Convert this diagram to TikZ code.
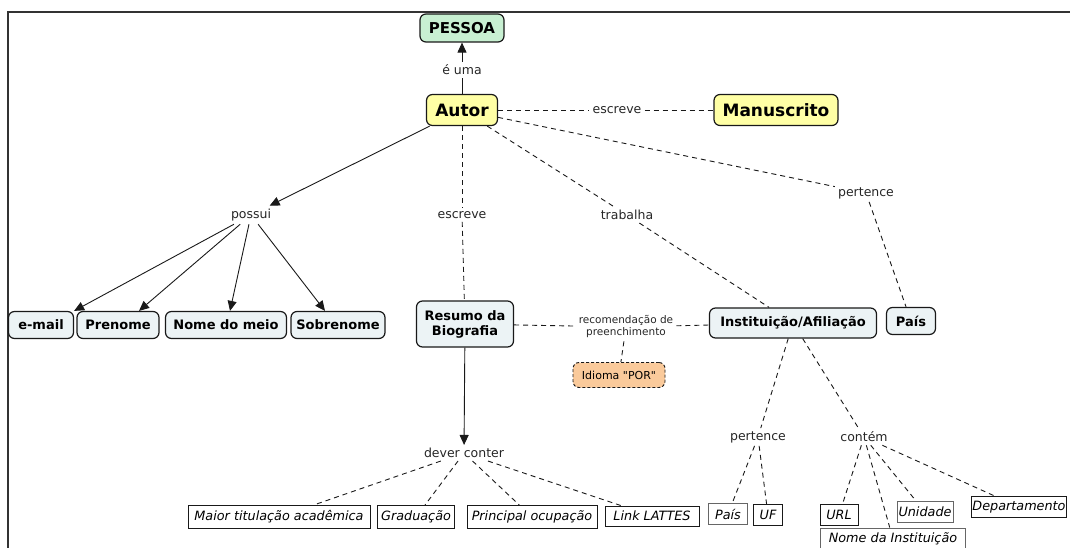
\documentclass[tikz,border=0pt]{standalone}
\usepackage{fontspec}
\setmainfont{DejaVu Sans}
\newfontfamily\plainquotes{DejaVu Sans}[Ligatures=TeXOff]
\usetikzlibrary{arrows.meta}
\definecolor{conceptfill}{RGB}{236,243,245}
\definecolor{autorfill}{RGB}{255,255,165}
\definecolor{pessoafill}{RGB}{200,240,210}
\definecolor{idiomafill}{RGB}{250,202,155}
\definecolor{inkline}{RGB}{25,25,25}

\begin{document}
\begin{tikzpicture}[x=1pt,y=-1pt,
  concept/.style={draw=inkline, line width=1.2pt, rounded corners=6pt, fill=conceptfill,
    font=\bfseries\fontsize{13}{15}\selectfont, inner sep=0pt, align=center},
  keybox/.style={concept, fill=autorfill, font=\bfseries\fontsize{17}{19}\selectfont},
  leaf/.style={draw=inkline, line width=0.9pt, fill=white, inner sep=1pt,
    font=\itshape\fontsize{12.8}{14}\selectfont, minimum height=21pt},
  link/.style={inner sep=3pt, text=black!85, font=\fontsize{12.5}{14}\selectfont},
  solidc/.style={line width=0.9pt, draw=inkline},
  arrowc/.style={solidc, -{Triangle[length=10pt,width=9pt]}},
  dashc/.style={line width=0.9pt, draw=inkline, dash pattern=on 5pt off 4pt}
]
\useasboundingbox (0,0) rectangle (1070,548);

% frame
\draw[line width=1.4pt, black!80] (8,548) -- (8,12) -- (1070,12);

% main concepts
\node[concept, fill=pessoafill, font=\bfseries\fontsize{15}{17}\selectfont,
  minimum width=84pt, minimum height=28pt] (pessoa) at (462,28) {PESSOA};
\node[keybox, minimum width=71pt, minimum height=31pt] (autor) at (462,110) {Autor};
\node[keybox, minimum width=124pt, minimum height=31pt] (manuscrito) at (776,110) {Manuscrito};

% linking phrases
\node[link] (euma) at (462,70) {é uma};
\node[link] (escreveA) at (617,110) {escreve};
\node[link] (possui) at (251,215) {possui};
\node[link] (escreveB) at (462,215) {escreve};
\node[link] (trabalha) at (627,215) {trabalha};
\node[link] (pertenceA) at (866,193) {pertence};
\node[link, font=\fontsize{10.5}{12}\selectfont, align=center] (recom) at (626,327)
  {recomendação de\\preenchimento};
\node[link] (dever) at (464,453) {dever conter};
\node[link] (pertenceB) at (758,437) {pertence};
\node[link] (contem) at (864,437) {contém};

% second row
\node[concept, minimum width=65pt, minimum height=27pt] (email) at (41,325) {e-mail};
\node[concept, minimum width=82pt, minimum height=27pt] (prenome) at (118,325) {Prenome};
\node[concept, minimum width=121pt, minimum height=27pt] (nomemeio) at (226,325) {Nome do meio};
\node[concept, minimum width=94pt, minimum height=27pt] (sobrenome) at (338,325) {Sobrenome};
\node[concept, minimum width=97pt, minimum height=46pt] (resumo) at (465,324) {Resumo da\\Biografia};
\node[concept, minimum width=167pt, minimum height=30pt] (instituicao) at (793,323) {Instituição/Afiliação};
\node[concept, minimum width=49pt, minimum height=27pt] (paisA) at (911,321) {País};
\node[draw=inkline, line width=0.9pt, dash pattern=on 3pt off 2pt, rounded corners=6pt,
  fill=idiomafill, font=\plainquotes\fontsize{11}{13}\selectfont, minimum width=92pt,
  minimum height=25pt, inner sep=0pt] (idioma) at (619,375) {Idioma "POR"};

% leaves
\node[leaf, minimum width=182pt, minimum height=23pt] (maior) at (279,517) {Maior titulação acadêmica};
\node[leaf, minimum width=77pt, minimum height=23pt] (graduacao) at (416,517) {Graduação};
\node[leaf, minimum width=130pt, minimum height=23pt] (principal) at (532,517) {Principal ocupação};
\node[leaf, minimum width=94pt, minimum height=20pt] (lattes) at (652,516) {Link LATTES};
\node[leaf, draw=black!60, minimum width=39pt] (paisB) at (728,514) {País};
\node[leaf, minimum width=29pt] (uf) at (768,515) {UF};
\node[leaf, minimum width=38pt] (url) at (839,515) {URL};
\node[leaf, draw=black!60, minimum width=145pt, minimum height=22pt] (nomeinst) at (893,539) {Nome da Instituição};
\node[leaf, draw=black!60, minimum width=56pt] (unidade) at (925,512) {Unidade};
\node[leaf, minimum width=92pt] (departamento) at (1019,507) {Departamento};

% connectors
\draw[solidc] (autor) -- (euma);
\draw[arrowc] (euma) -- (pessoa);
\draw[dashc] (autor) -- (escreveA);
\draw[dashc] (escreveA) -- (manuscrito);

\draw[arrowc] (autor) -- (possui);
\draw[arrowc] (possui) -- (email.north east);
\draw[arrowc] (possui) -- ([xshift=21pt]prenome.north);
\draw[arrowc] (possui) -- ([xshift=4pt]nomemeio.north);
\draw[arrowc] (possui) -- ([xshift=-13pt]sobrenome.north);

\draw[dashc] (autor) -- (escreveB);
\draw[dashc] (escreveB) -- (resumo);
\draw[dashc] (autor) -- (trabalha);
\draw[dashc] (trabalha) -- (instituicao);
\draw[dashc] (autor) -- (pertenceA);
\draw[dashc] (pertenceA) -- (paisA);

\draw[dashc] (resumo) -- (recom);
\draw[dashc] (recom) -- (instituicao);
\draw[dashc] (recom) -- (idioma);

\draw[arrowc] (resumo) -- (dever);
\draw[dashc] (dever) -- (maior);
\draw[dashc] (dever) -- (graduacao);
\draw[dashc] (dever) -- (principal);
\draw[dashc] (dever) -- (lattes);

\draw[dashc] (instituicao) -- (pertenceB);
\draw[dashc] (instituicao) -- (contem);
\draw[dashc] (pertenceB) -- (paisB);
\draw[dashc] (pertenceB) -- (uf);
\draw[dashc] (contem) -- (url);
\draw[dashc] (contem) -- (nomeinst);
\draw[dashc] (contem) -- (unidade);
\draw[dashc] (contem) -- (departamento);
\end{tikzpicture}
\end{document}
